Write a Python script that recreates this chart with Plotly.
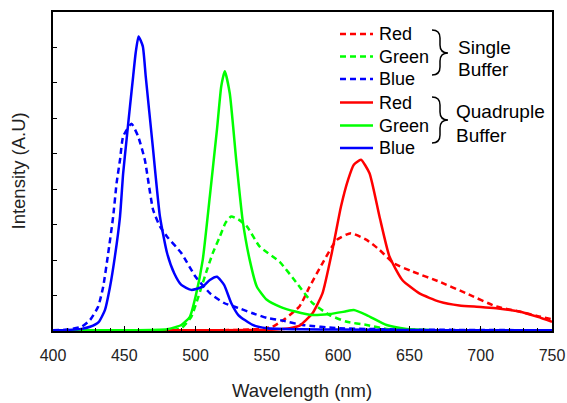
import plotly.graph_objects as go

# ---- data ----
wl_blue_q = [400,410,420,426,432,436.4,440,443.4,447,449.2,451.6,454,456.2,458,460,463,465,470,475,480,485,490,497,505,510,515,520,525,530,540,550,575,600,650,700,750]
val_blue_q = [0.02,0.03,0.06,0.12,0.25,0.59,1.25,2.1,3.23,4.45,5.4,6.34,7.18,7.85,8.31,8.03,7.2,5.2,3.23,2.2,1.63,1.3,1.16,1.25,1.44,1.53,1.3,0.79,0.45,0.17,0.08,0.05,0.04,0.03,0.02,0.02]

wl_blue_s = [400,410,420,426,431.7,435.2,438.7,442.2,444.6,447,449.2,455,459.7,464.4,470.2,475,480,490,500,510,520,530,540,550,560,575,600,650,750]
val_blue_s = [0.02,0.04,0.12,0.31,0.69,1.25,2.19,3.23,4.17,4.83,5.49,5.85,5.49,4.83,3.42,2.95,2.66,2.2,1.53,1.07,0.79,0.65,0.5,0.37,0.3,0.17,0.08,0.04,0.02]

wl_green_q = [400,450,480,490,496,500,505,510,515,518,520.5,524,528.5,533,538,543,550,559,570,582,594,605,611,620,634,648,660,750]
val_green_q = [0.02,0.02,0.05,0.17,0.4,0.97,2.0,3.8,5.68,6.9,7.33,6.7,4.83,3.13,2.0,1.25,0.88,0.69,0.55,0.45,0.48,0.55,0.59,0.45,0.17,0.06,0.03,0.02]

wl_green_s = [400,480,490,497,502,507,512,517,521,525,530,536,545,559,571,582,594,606,620,634,650,750]
val_green_s = [0.02,0.02,0.08,0.4,0.97,1.6,2.19,2.66,3.05,3.23,3.15,2.95,2.38,1.95,1.35,0.79,0.45,0.26,0.17,0.06,0.03,0.02]

wl_red_q = [400,480,550,559,566,573,582,589,596,602,607,611,616,622,629,636,645,657,671,685,700,711,727,740,750]
val_red_q = [0.01,0.02,0.03,0.05,0.08,0.15,0.5,1.06,2.29,3.51,4.27,4.69,4.83,4.45,3.23,2.1,1.44,1.06,0.83,0.72,0.68,0.64,0.55,0.4,0.26]

wl_red_s = [400,500,530,545,554,563,573,580,589,599,609,620,629,639,652,671,690,711,727,740,750]
val_red_s = [0.01,0.02,0.03,0.06,0.12,0.35,0.7,1.25,1.91,2.57,2.76,2.57,2.29,1.91,1.68,1.39,1.06,0.69,0.55,0.42,0.33]

x_ticks = [400,450,500,550,600,650,700,750]
legend_labels = ["Red", "Green", "Blue"]
group_labels = [["Single", "Buffer"], ["Quadruple", "Buffer"]]
x_title = "Wavelength (nm)"
y_title = "Intensity (A.U)"

RED, GREEN, BLUE = "#FF0000", "#00FF00", "#0000FF"
FONT = "Arial, Liberation Sans, sans-serif"
DASH = "6px,4px"

fig = go.Figure()
series = [
    (wl_red_s, val_red_s, RED, DASH),
    (wl_green_s, val_green_s, GREEN, DASH),
    (wl_blue_s, val_blue_s, BLUE, DASH),
    (wl_red_q, val_red_q, RED, "solid"),
    (wl_green_q, val_green_q, GREEN, "solid"),
    (wl_blue_q, val_blue_q, BLUE, "solid"),
]
for x, y, c, d in series:
    fig.add_trace(go.Scatter(x=x, y=y, mode="lines",
                             line=dict(color=c, width=2.5, dash=d, shape="spline", smoothing=0.5),
                             showlegend=False, hoverinfo="skip"))

W, H = 567, 403
# plot-area geometry in window pixels (for placing the custom legend)
L, R, T, B = 53, 552, 12, 331
def px(x):
    return (x - L) / (R - L)
def py(y):
    return (B - y) / (B - T)

shapes = []
annotations = []
rows_y = [34, 56.5, 79, 102.5, 125.5, 148]
colors = [RED, GREEN, BLUE, RED, GREEN, BLUE]
dashes = [DASH, DASH, DASH, "solid", "solid", "solid"]
for i, yy in enumerate(rows_y):
    shapes.append(dict(type="line", xref="paper", yref="paper",
                       x0=px(340), x1=px(373), y0=py(yy), y1=py(yy),
                       line=dict(color=colors[i], width=2.5, dash=dashes[i])))
    annotations.append(dict(xref="paper", yref="paper", x=px(377), y=py(yy),
                            text=legend_labels[i % 3], showarrow=False,
                            xanchor="left", yanchor="middle",
                            font=dict(family=FONT, size=18, color="black")))

def brace(x0, ytop, ybot, ymid, w=16, r=8):
    xm = x0 + w / 2
    xt = x0 + w
    pts = [
        ("M", [(x0, ytop)]),
        ("Q", [(xm, ytop), (xm, ytop + r)]),
        ("L", [(xm, ymid - r)]),
        ("Q", [(xm, ymid), (xt, ymid)]),
        ("Q", [(xm, ymid), (xm, ymid + r)]),
        ("L", [(xm, ybot - r)]),
        ("Q", [(xm, ybot), (x0, ybot)]),
    ]
    s = ""
    for cmd, ps in pts:
        s += cmd + " " + " ".join(f"{px(a):.5f},{py(b):.5f}" for a, b in ps) + " "
    return s.strip()

for (ytop, ybot, ymid) in [(30, 75, 53), (97, 143, 120)]:
    shapes.append(dict(type="path", xref="paper", yref="paper",
                       path=brace(432, ytop, ybot, ymid),
                       line=dict(color="black", width=1.5)))

for (label, xx, y1, y2) in [(group_labels[0], 456, 47, 70), (group_labels[1], 454, 112, 135)]:
    for txt, yy in ((label[0], y1), (label[1], y2)):
        annotations.append(dict(xref="paper", yref="paper", x=px(xx), y=py(yy), text=txt,
                                showarrow=False, xanchor="left", yanchor="middle",
                                font=dict(family=FONT, size=19, color="black")))

# axis titles
annotations.append(dict(xref="paper", yref="paper", x=px(302), y=py(390), text=x_title,
                        showarrow=False, xanchor="center", yanchor="middle",
                        font=dict(family=FONT, size=18.5, color="#222")))
annotations.append(dict(xref="paper", yref="paper", x=px(18), y=py(171.5), text=y_title,
                        showarrow=False, xanchor="center", yanchor="middle", textangle=-90,
                        font=dict(family=FONT, size=18.5, color="#222")))

fig.update_layout(
    width=W, height=H,
    margin=dict(l=L, r=W - R, t=T, b=H - B, autoexpand=False),
    paper_bgcolor="white", plot_bgcolor="white",
    font=dict(family=FONT, color="black"),
    shapes=shapes, annotations=annotations,
    hovermode=False,
    xaxis=dict(range=[400, 750], tickvals=x_ticks, ticktext=[str(v) for v in x_ticks],
               ticks="inside", ticklen=5, tickwidth=1, tickcolor="black",
               minor=dict(dtick=10, ticks="inside", ticklen=3, tickcolor="black", showgrid=False),
               showline=True, linecolor="black", linewidth=1.5, mirror=True,
               showgrid=False, zeroline=False, automargin=False,
               ticklabelstandoff=9,
               tickfont=dict(family=FONT, size=16, color="#222")),
    yaxis=dict(range=[0, 9], dtick=1, ticks="inside", ticklen=4, tickwidth=1, tickcolor="black",
               showticklabels=False,
               showline=True, linecolor="black", linewidth=1.5, mirror=True,
               showgrid=False, zeroline=False, automargin=False),
)

# place the figure at the window's top-left corner (no default body margin, no scrollbars)
fig.write_html("out.html",
               config={"displayModeBar": False},
               post_script="document.body.style.margin='0px';"
                           "document.documentElement.style.overflow='hidden';"
                           "document.body.style.overflow='hidden';")
